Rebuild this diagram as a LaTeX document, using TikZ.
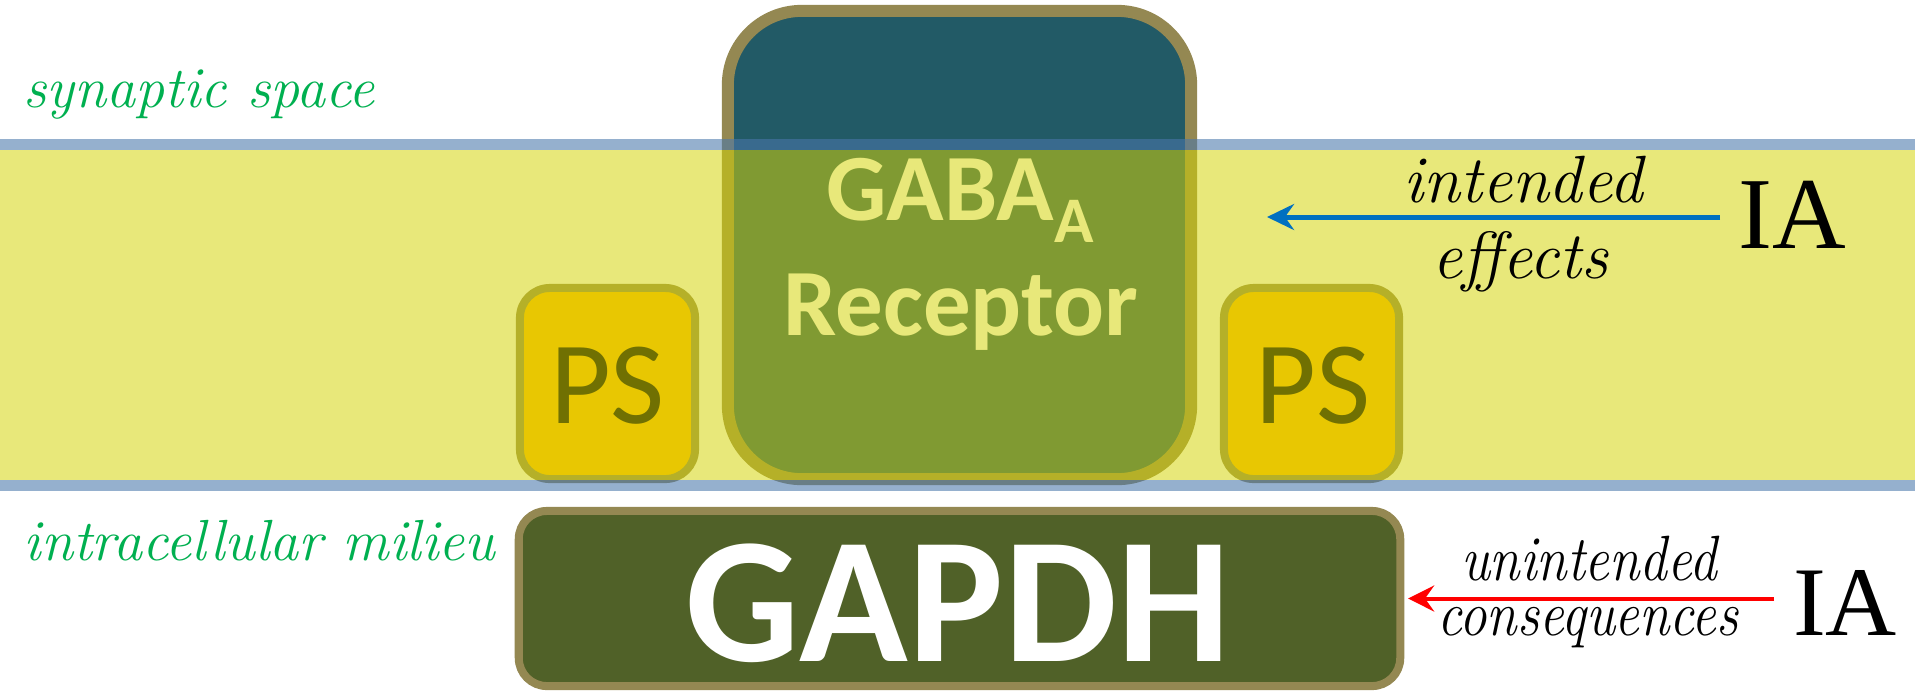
\documentclass[tikz,border=0pt]{standalone}
\usepackage{fontspec}
\newfontfamily\carlito{Carlito}
\newfontfamily\libserif{Liberation Serif}
\usetikzlibrary{arrows.meta}
\definecolor{recteal}{RGB}{34,90,102}
\definecolor{boxborder}{RGB}{148,136,82}
\definecolor{psfill}{RGB}{255,186,0}
\definecolor{bandyellow}{RGB}{212,212,4}
\definecolor{membraneblue}{RGB}{74,119,172}
\definecolor{gapdhgreen}{RGB}{80,97,40}
\definecolor{labelgreen}{RGB}{0,176,80}
\definecolor{intendedblue}{RGB}{0,112,192}
\definecolor{unintendedred}{RGB}{255,0,0}
\tikzset{
  receptorbox/.style={draw=boxborder, fill=recteal, line width=3.41pt, rounded corners=21pt,
    minimum width=4.63cm, minimum height=4.68cm, inner sep=0pt},
  psbox/.style={draw=boxborder, fill=psfill, line width=2.28pt, rounded corners=8.5pt,
    minimum width=1.75cm, minimum height=1.91cm, inner sep=0pt},
  gapdhbox/.style={draw=boxborder, fill=gapdhgreen, line width=2.28pt, rounded corners=8pt,
    minimum width=8.81cm, minimum height=1.75cm, inner sep=0pt},
  band/.style={fill=bandyellow, fill opacity=0.53},
  membrane/.style={fill=membraneblue, fill opacity=0.58},
  txt/.style={inner sep=0pt, anchor=base},
  pstext/.style={txt, font=\carlito\fontsize{33.5}{36}\selectfont, text=black},
  rectext/.style={txt, font=\carlito\bfseries\fontsize{27}{30}\selectfont, text=white},
  arrowlabel/.style={txt, font=\itshape\fontsize{19}{22}\selectfont, text=black},
  smalllabel/.style={txt, font=\itshape\fontsize{18.2}{20}\selectfont, text=black, xscale=0.86},
  ialabel/.style={txt, font=\libserif\fontsize{29}{32}\selectfont, text=black},
  regionlabel/.style={inner sep=0pt, anchor=base west, font=\itshape\fontsize{16.5}{19}\selectfont, text=labelgreen},
  effectarrow/.style={line width=1.42pt, draw=intendedblue, -{Stealth[length=7.7pt, width=7.4pt, inset=2.6pt]}},
  sidearrow/.style={line width=1.14pt, draw=unintendedred, -{Stealth[length=7.4pt, width=7.4pt, inset=2.6pt]}}
}
\begin{document}
\begin{tikzpicture}[x=0.01cm, y=-0.01cm]
\useasboundingbox (0,0) rectangle (1915,690);
\fill[white] (0,0) rectangle (1915,690);

% receptor and proteins (under the translucent membrane)
\node[receptorbox] (receptor) at (959.5,245) {};
\node[psbox] (psleft) at (607.5,383.5) {};
\node[psbox] (psright) at (1311.5,383.5) {};
\node[pstext] (pslefttext) at (607.5,423) {PS};
\node[pstext] (psrighttext) at (1313,423) {PS};
\node[rectext] (gabatext) at (960,220) {GABA\raisebox{-6.5pt}{\fontsize{18.5}{20}\selectfont A}};
\node[rectext] (receptortext) at (961,335) {Receptor};

% membrane band
\fill[band] (0,150) rectangle (1915,480);
\fill[membrane] (0,139) rectangle (1915,150);
\fill[membrane] (0,480) rectangle (1915,491);

% GAPDH
\node[gapdhbox] (gapdh) at (959.5,598.5) {};
\node[txt, font=\carlito\bfseries\fontsize{51}{56}\selectfont, text=white] (gapdhtext) at (958,661) {GAPDH};

% region labels
\node[regionlabel] (synaptic) at (23,107) {synaptic space};
\node[regionlabel] (intracellular) at (23,560) {intracellular milieu};

% intended effects
\node[ialabel] (iatop) at (1792,248) {IA};
\coordinate (bluetail) at (1720,217);
\coordinate (bluetip) at (1267,217);
\draw[effectarrow] (bluetail) -- (bluetip);
\node[arrowlabel] (intended) at (1523,202) {intended};
\node[arrowlabel] (effects) at (1520,278) {effects};

% unintended consequences
\node[ialabel, font=\libserif\fontsize{28}{31}\selectfont] (iabottom) at (1845,635) {IA};
\coordinate (redtail) at (1774,598.5);
\draw[sidearrow, shorten >=1.1pt] (redtail) -- (gapdh.east);
\node[smalllabel] (unintended) at (1589,580) {unintended};
\node[smalllabel] (consequences) at (1588,635) {consequences};
\end{tikzpicture}
\end{document}
